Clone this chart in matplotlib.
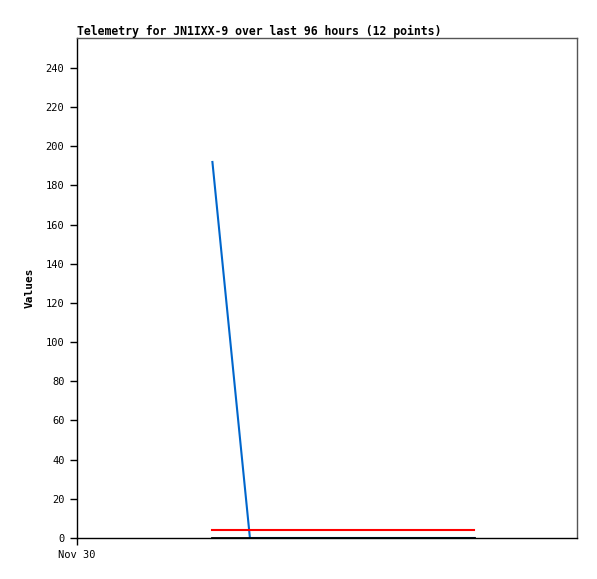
import matplotlib
matplotlib.use("Agg")
import matplotlib.pyplot as plt

# Telemetry series (hours since Nov 30 00:00)
hours = [26, 33.2, 38, 42.5, 47, 51.5, 56, 60.5, 65, 69.5, 72.5, 76.3]
blue_vals = [192, 0, 0, 0, 0, 0, 0, 0, 0, 0, 0, 0]
red_vals = [4, 4, 4, 4, 4, 4, 4, 4, 4, 4, 4, 4]
black_vals = [0, 0, 0, 0, 0, 0, 0, 0, 0, 0, 0, 0]

y_ticks = list(range(0, 241, 20))
x_tick_pos = [0]
x_tick_labels = ["Nov 30"]

plt.rcParams['font.family'] = ['DejaVu Sans Mono']

W, H = 597, 579
fig = plt.figure(figsize=(W / 100, H / 100), dpi=100)
ax = fig.add_axes([77 / W, (H - 538) / H, 500 / W, 500 / H])

ax.plot(hours, blue_vals, color="#0066cc", lw=1.5, zorder=3)
ax.plot(hours, red_vals, color="#ff0000", lw=1.5, zorder=3)
ax.plot(hours, black_vals, color="black", lw=2, zorder=4)

ax.set_xlim(0, 96)
ax.set_ylim(0, 255.3)
ax.set_yticks(y_ticks)
ax.set_xticks(x_tick_pos)
ax.set_xticklabels(x_tick_labels)
ax.tick_params(axis="both", direction="out", length=5, width=1, labelsize=7.5, pad=4)

for side in ("left", "bottom"):
    ax.spines[side].set_color("black")
    ax.spines[side].set_linewidth(1)
for side in ("top", "right"):
    ax.spines[side].set_color("#555555")
    ax.spines[side].set_linewidth(1)

ax.set_ylabel("Values", fontsize=8, fontweight="bold", labelpad=8)
ax.set_title("Telemetry for JN1IXX-9 over last 96 hours (12 points)",
             fontsize=8.3, fontweight="bold", loc="left", pad=2)

fig.savefig("out.png", dpi=100)
